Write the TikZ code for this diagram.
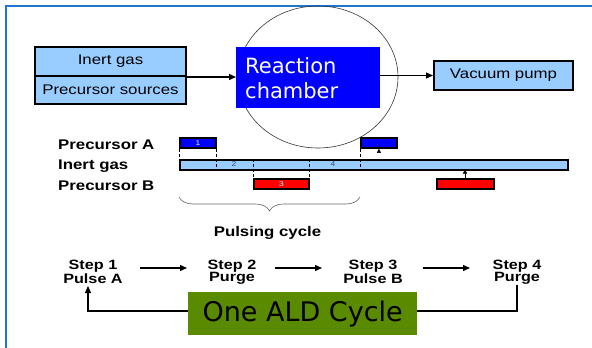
\documentclass[tikz,border=0pt]{standalone}
\usepackage{fontspec}
\usetikzlibrary{arrows.meta,decorations.pathreplacing,calc}
\newfontfamily\arl{Liberation Sans}[FakeStretch=1.2]
\newfontfamily\dvs{DejaVu Sans}
\definecolor{lblue}{RGB}{153,204,255}
\definecolor{frameblue}{RGB}{30,120,210}
\definecolor{ogreen}{RGB}{90,138,0}
\definecolor{numgray}{RGB}{60,70,110}
\tikzset{
  box/.style={draw=black,line width=2pt,fill=lblue,inner sep=0pt,font=\arl\fontsize{14}{16}\selectfont},
  pulse/.style={draw=black,line width=1.8pt,inner sep=0pt,anchor=north west},
  arr/.style={line width=1.3pt,-{Triangle[length=7pt,width=6pt]}},
  sarr/.style={line width=0.5pt,-{Triangle[length=4pt,width=4pt]}},
  dsh/.style={densely dashed,line width=0.7pt},
  lbl/.style={font=\arl\bfseries\fontsize{14}{16}\selectfont,anchor=base west,inner sep=0pt},
  stepnode/.style={font=\arl\bfseries\fontsize{13.5}{12.5}\selectfont,align=center,inner xsep=17pt,inner ysep=1pt},
  num/.style={font=\arl\fontsize{7}{7}\selectfont,inner sep=0pt}
}
\begin{document}
\begin{tikzpicture}[x=1pt,y=-1pt]
\useasboundingbox (0,0) rectangle (592,348);
% frame
\draw[frameblue,line width=2pt] (6,348) -- (6,6) -- (592,6);
% chamber ellipse
\draw[line width=0.6pt,black!80] (318,77) ellipse [x radius=80,y radius=71];
% left stacked box
\node[box,minimum width=151,minimum height=29,anchor=north west] (inert) at (34,46) {Inert gas};
\node[box,minimum width=151,minimum height=28,anchor=north west] (psrc) at (34,75) {Precursor sources};
% chamber
\node[fill=blue,draw=none,anchor=north west,minimum width=143,minimum height=61,text width=126,inner xsep=9pt,inner ysep=0pt,align=left,text=white,font=\dvs\fontsize{21}{25}\selectfont] (chamber) at (236,47) {Reaction\\chamber};
% vacuum pump
\node[box,minimum width=139,minimum height=29,anchor=north west] (vac) at (433,60) {Vacuum pump};
\draw[arr] (inert.south east) -- (chamber.west |- inert.south east);
\draw[arr] (chamber.east |- vac.west) -- (vac.west);
% timing labels
\node[lbl] (lA) at (58,149) {Precursor A};
\node[lbl] (lI) at (58,169) {Inert gas};
\node[lbl] (lB) at (58,190) {Precursor B};
% bar and pulses
\node[pulse,fill=lblue,minimum width=388,minimum height=10] (bar) at (179,159) {};
\node[pulse,fill=blue,minimum width=36,minimum height=10] (pa1) at (179,137) {};
\node[pulse,fill=red,minimum width=55,minimum height=10] (pb1) at (253,178) {};
\node[pulse,fill=blue,minimum width=36,minimum height=10] (pa2) at (360,137) {};
\node[pulse,fill=red,minimum width=57,minimum height=10] (pb2) at (436,178) {};
\node[num,text=white] (n1) at (pa1.center) {1};
\node[num,text=white] (n3) at (pb1.center) {3};
\node[num,text=numgray] (n2) at (234,164) {2};
\node[num,text=numgray] (n4) at (333,164) {4};
% dashed lines
\draw[dsh] (pa1.south west) -- (bar.south west);
\draw[dsh] (pa1.south east) -- (pa1.south east |- bar.south);
\draw[dsh] (pb1.north west |- bar.north) -- (pb1.north west);
\draw[dsh] (pb1.north east |- bar.north) -- (pb1.north east);
\draw[dsh] (pa2.south west) -- (pa2.south west |- bar.south);
% small arrows
\draw[sarr] ($(pa2.south west)!0.5!(pa2.south east)$) -- ($(pa2.south west)!0.5!(pa2.south east)$ |- bar.north);
\draw[sarr] (465,178) -- (465,169.5);
% brace
\draw[decorate,decoration={brace,amplitude=14pt,mirror},line width=0.6pt,black!60] (179,197) -- (360,197);
\node[font=\arl\bfseries\fontsize{14}{16}\selectfont,inner sep=0pt,anchor=base] (pc) at (267.5,236) {Pulsing cycle};
% steps
\node[stepnode] (s1) at (93,272) {Step 1\\Pulse A};
\node[stepnode] (s2) at (232,272) {Step 2\\Purge};
\node[stepnode] (s3) at (373,272) {Step 3\\Pulse B};
\node[stepnode] (s4) at (517,272) {Step 4\\Purge};
\draw[arr] (140,268) -- (187,268);
\draw[arr] (275,268) -- (322,268);
\draw[arr] (423,268) -- (470,268);
% ALD cycle box
\node[fill=ogreen,anchor=north west,minimum width=229,minimum height=43,inner sep=0pt,font=\dvs\fontsize{27}{30}\selectfont] (ald) at (188,292) {One ALD Cycle};
\draw[arr] (ald.west |- 0,311) -- (88,311) -- (88,286);
\draw[line width=1.3pt] (ald.east |- 0,311) -- (517,311) -- (517,285);
\end{tikzpicture}
\end{document}
